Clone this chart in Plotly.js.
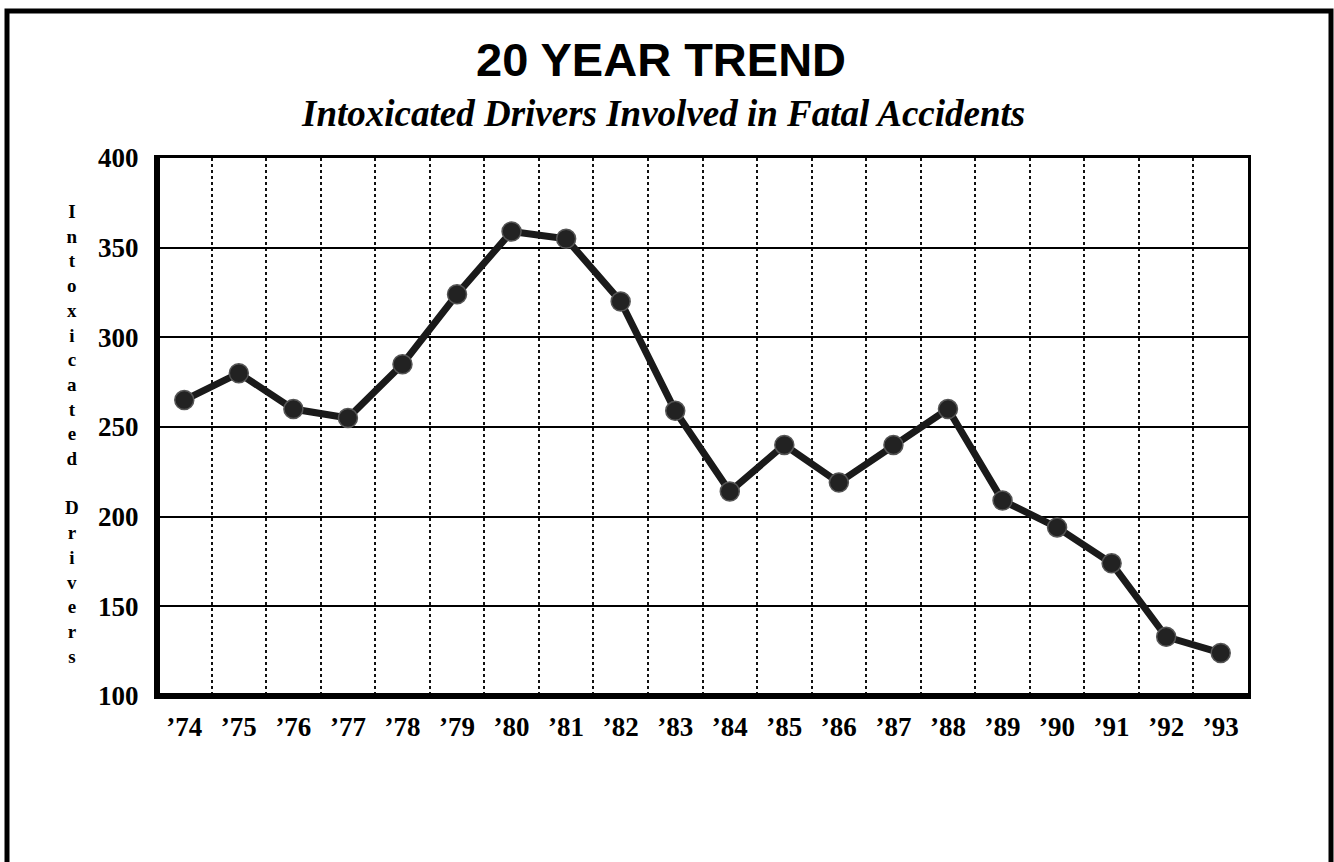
<!DOCTYPE html>
<html>
<head>
<meta charset="utf-8">
<script src="https://cdn.plot.ly/plotly-3.0.1.min.js"></script>
<style>
  html, body { margin: 0; padding: 0; background: #ffffff; }
  #chart { width: 1334px; height: 862px; }
</style>
</head>
<body>
<div id="chart"></div>
<script>
// ---- data ----
const years = ['74','75','76','77','78','79','80','81','82','83','84','85','86','87','88','89','90','91','92','93'];
const tickLabels = years.map(y => '\u2019' + y);
const drivers = [265, 280, 260, 255, 285, 324, 359, 355, 320, 259, 214, 240, 219, 240, 260, 209, 194, 174, 133, 124];
const yTicks = [100, 150, 200, 250, 300, 350, 400];

const titleText = '20 YEAR TREND';
const subtitleText = 'Intoxicated Drivers Involved in Fatal Accidents';
const yTitleText = 'Intoxicated Drivers';

// ---- layout geometry (pixels) ----
const W = 1334, H = 862;
const M = { l: 157, r: 86, t: 158, b: 166 };
const PW = W - M.l - M.r, PH = H - M.t - M.b;
const px = x => (x - M.l) / PW;          // pixel x -> paper x
const py = y => (H - M.b - y) / PH;      // pixel y -> paper y

const serif = 'Liberation Serif, Times New Roman, serif';
const sans = 'Liberation Sans, Arial, sans-serif';

const stacked = yTitleText.split('').map(c => c === ' ' ? '&nbsp;' : c).join('<br>');

const trace = {
  x: years,
  y: drivers,
  type: 'scatter',
  mode: 'lines+markers',
  line: { color: '#1a1a1a', width: 7 },
  marker: { size: 19, color: '#222222', line: { color: '#555555', width: 1.5 } },
  hoverinfo: 'x+y',
  showlegend: false
};

const layout = {
  width: W, height: H,
  margin: M,
  paper_bgcolor: '#ffffff',
  plot_bgcolor: '#ffffff',
  showlegend: false,
  xaxis: {
    type: 'category',
    tickson: 'boundaries',
    tickvals: years,
    ticktext: tickLabels,
    ticks: '',
    showgrid: true,
    gridcolor: '#111111',
    gridwidth: 2,
    griddash: 'dot',
    showline: true,
    linecolor: '#000000',
    linewidth: 3,
    mirror: true,
    zeroline: false,
    ticklabelstandoff: 5,
    tickfont: { family: serif, size: 27, color: '#000000', weight: 'bold' },
    range: [-0.5, 19.5]
  },
  yaxis: {
    range: [100, 400],
    tickvals: yTicks,
    ticks: '',
    showgrid: true,
    gridcolor: '#000000',
    gridwidth: 2,
    showline: true,
    linecolor: '#000000',
    linewidth: 3,
    mirror: true,
    zeroline: false,
    ticklabelstandoff: 10,
    tickfont: { family: serif, size: 27, color: '#000000', weight: 'bold' }
  },
  annotations: [
    {
      xref: 'paper', yref: 'paper', x: px(661), y: py(60),
      xanchor: 'center', yanchor: 'middle', showarrow: false,
      text: '<b>' + titleText + '</b>',
      font: { family: sans, size: 47, color: '#000000' }
    },
    {
      xref: 'paper', yref: 'paper', x: px(663), y: py(114),
      xanchor: 'center', yanchor: 'middle', showarrow: false,
      text: '<b><i>' + subtitleText + '</i></b>',
      font: { family: serif, size: 37, color: '#000000' }
    },
    {
      xref: 'paper', yref: 'paper', x: px(72), y: py(434),
      xanchor: 'center', yanchor: 'middle', showarrow: false,
      text: '<b>' + stacked + '</b>',
      align: 'center',
      font: { family: serif, size: 19, color: '#000000' }
    }
  ],
  shapes: [
    // heavier left and bottom axis lines
    { type: 'line', xref: 'paper', yref: 'paper', x0: 0, x1: 0, y0: 0, y1: 1,
      line: { color: '#000000', width: 6 } },
    { type: 'line', xref: 'paper', yref: 'paper', x0: 0, x1: 1, y0: 0, y1: 0,
      line: { color: '#000000', width: 6 } },
    // outer frame (open at the bottom)
    { type: 'path', xref: 'paper', yref: 'paper',
      path: 'M ' + px(7) + ',' + py(900) + ' L ' + px(7) + ',' + py(11) +
            ' L ' + px(1331) + ',' + py(11) + ' L ' + px(1331) + ',' + py(900),
      line: { color: '#000000', width: 5 } }
  ]
};

Plotly.newPlot('chart', [trace], layout, { displayModeBar: false, staticPlot: true });
</script>
</body>
</html>
